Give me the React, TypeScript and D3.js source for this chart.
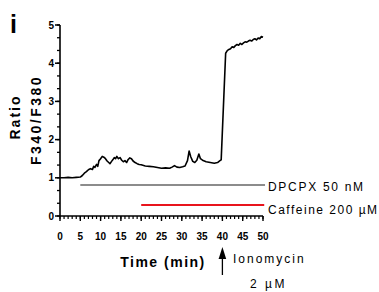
import React from 'react';
import * as d3 from 'd3';

// ratio trace, [time (min), F340/F380]
const trace: [number, number][] = [
  [0, 1.0], [1, 1.0], [2, 1.01], [3, 1.0], [4, 1.01], [5, 1.02], [5.5, 1.06], [6, 1.12], [6.5, 1.16],
  [7, 1.21], [7.5, 1.24], [8, 1.22], [8.3, 1.3], [8.6, 1.27], [9, 1.35], [9.3, 1.3], [9.6, 1.45],
  [10, 1.5], [10.4, 1.56], [10.8, 1.54], [11.2, 1.5], [11.6, 1.44], [12, 1.4], [12.3, 1.37],
  [12.7, 1.43], [13, 1.47], [13.4, 1.53], [13.7, 1.5], [14, 1.56], [14.4, 1.5], [14.8, 1.53],
  [15.2, 1.46], [15.6, 1.42], [16, 1.45], [16.4, 1.4], [16.8, 1.48], [17.2, 1.52], [17.6, 1.5],
  [18, 1.44], [18.5, 1.4], [19, 1.37], [19.5, 1.35], [20, 1.34], [21, 1.31], [22, 1.3], [23, 1.29],
  [24, 1.27], [25, 1.25], [26, 1.26], [27, 1.25], [27.6, 1.28], [28.2, 1.32], [28.8, 1.28],
  [29.5, 1.27], [30.2, 1.29], [30.8, 1.31], [31.4, 1.45], [31.8, 1.7], [32.2, 1.55], [32.7, 1.43],
  [33.2, 1.4], [33.7, 1.46], [34.2, 1.62], [34.6, 1.5], [35.1, 1.46], [36, 1.42], [37, 1.4],
  [38, 1.38], [38.8, 1.4], [39.4, 1.45], [39.7, 1.47], [40.8, 4.26], [41.2, 4.33], [41.6, 4.36],
  [42, 4.38], [42.4, 4.43], [42.8, 4.41], [43.2, 4.46], [43.6, 4.49], [44, 4.47], [44.4, 4.52],
  [44.8, 4.49], [45.2, 4.53], [45.6, 4.56], [46, 4.55], [46.4, 4.58], [46.8, 4.6], [47.2, 4.58],
  [47.6, 4.62], [48, 4.64], [48.4, 4.61], [48.8, 4.66], [49.2, 4.64], [49.6, 4.7], [50, 4.68],
];

// drug application bars: [start, end, level]
const dpcpx = { start: 5, end: 50.5, level: 0.81, label: 'DPCPX 50 nM' };
const caffeine = { start: 20, end: 50.3, level: 0.29, label: 'Caffeine 200 \u00b5M' };
const ionomycinTime = 40;

const xTicks = d3.range(0, 51, 5);
const xMinor = d3.range(0, 51, 1);
const yTicks = [0, 1, 2, 3, 4, 5];
const yMinor = d3.range(0, 15.01, 1).map((d) => d / 3);

const W = 379;
const H = 292;
const font = "'Liberation Sans', Arial, sans-serif";

export default function App() {
  const x = d3.scaleLinear().domain([0, 50]).range([60, 263]);
  const y = d3.scaleLinear().domain([0, 5]).range([216, 25]);
  const line = d3.line<[number, number]>().x((d) => x(d[0])).y((d) => y(d[1]));

  return (
    <svg width={W} height={H} style={{ position: 'absolute', left: 0, top: 0, background: '#fff' }}>
      <text x={10} y={33} fontFamily={font} fontWeight="bold" fontSize={25}>i</text>

      {/* y axis */}
      <line x1={x(0)} x2={x(0)} y1={y(0)} y2={y(5)} stroke="#000" strokeWidth={1.6} />
      {yMinor.map((d, i) => (
        <line key={'ym' + i} x1={x(0) - 3} x2={x(0)} y1={y(d)} y2={y(d)} stroke="#000" strokeWidth={1.3} />
      ))}
      {yTicks.map((d) => (
        <g key={'y' + d}>
          <line x1={x(0) - 5} x2={x(0)} y1={y(d)} y2={y(d)} stroke="#000" strokeWidth={1.5} />
          <text x={54} y={y(d) + 3.6} textAnchor="end" fontFamily={font} fontWeight="bold" fontSize={10}>{d}</text>
        </g>
      ))}

      {/* x axis */}
      <line x1={x(0)} x2={x(50)} y1={y(0)} y2={y(0)} stroke="#000" strokeWidth={1.6} />
      {xMinor.map((d) => (
        <line key={'xm' + d} x1={x(d)} x2={x(d)} y1={y(0)} y2={y(0) + 3} stroke="#000" strokeWidth={1.2} />
      ))}
      {xTicks.map((d) => (
        <g key={'x' + d}>
          <line x1={x(d)} x2={x(d)} y1={y(0)} y2={y(0) + 5} stroke="#000" strokeWidth={1.4} />
          <text x={x(d)} y={240} textAnchor="middle" fontFamily={font} fontWeight="bold" fontSize={10}>{d}</text>
        </g>
      ))}

      {/* axis titles */}
      <text x={163} y={267} textAnchor="middle" fontFamily={font} fontWeight="bold" fontSize={14} letterSpacing={1.5}>Time (min)</text>
      <text transform="translate(20,117) rotate(-90)" textAnchor="middle" fontFamily={font} fontWeight="bold" fontSize={14} letterSpacing={2}>Ratio</text>
      <text transform="translate(41,120) rotate(-90)" textAnchor="middle" fontFamily={font} fontWeight="bold" fontSize={14} letterSpacing={2.5}>F340/F380</text>

      {/* trace */}
      <path d={line(trace) ?? ''} fill="none" stroke="#000" strokeWidth={1.6} strokeLinejoin="round" />

      {/* drug bars */}
      <line x1={x(dpcpx.start)} x2={x(dpcpx.end)} y1={y(dpcpx.level)} y2={y(dpcpx.level)} stroke="#8c8c8c" strokeWidth={2} />
      <text x={268} y={191} fontFamily={font} fontSize={12} letterSpacing={1.7}>{dpcpx.label}</text>
      <line x1={x(caffeine.start)} x2={x(caffeine.end)} y1={y(caffeine.level)} y2={y(caffeine.level)} stroke="#e8141c" strokeWidth={2} />
      <text x={268} y={214} fontFamily={font} fontSize={12} letterSpacing={1.5}>{caffeine.label}</text>

      {/* ionomycin arrow */}
      <line x1={x(ionomycinTime)} x2={x(ionomycinTime)} y1={256} y2={275} stroke="#000" strokeWidth={1.3} />
      <path d={`M${x(ionomycinTime)},247 L${x(ionomycinTime) - 3.8},259 L${x(ionomycinTime) + 3.8},259 Z`} fill="#000" />
      <text x={233} y={263} fontFamily={font} fontSize={12} letterSpacing={2}>Ionomycin</text>
      <text x={250} y={288} fontFamily={font} fontSize={12} letterSpacing={2.5}>2 {'\u00b5'}M</text>
    </svg>
  );
}
